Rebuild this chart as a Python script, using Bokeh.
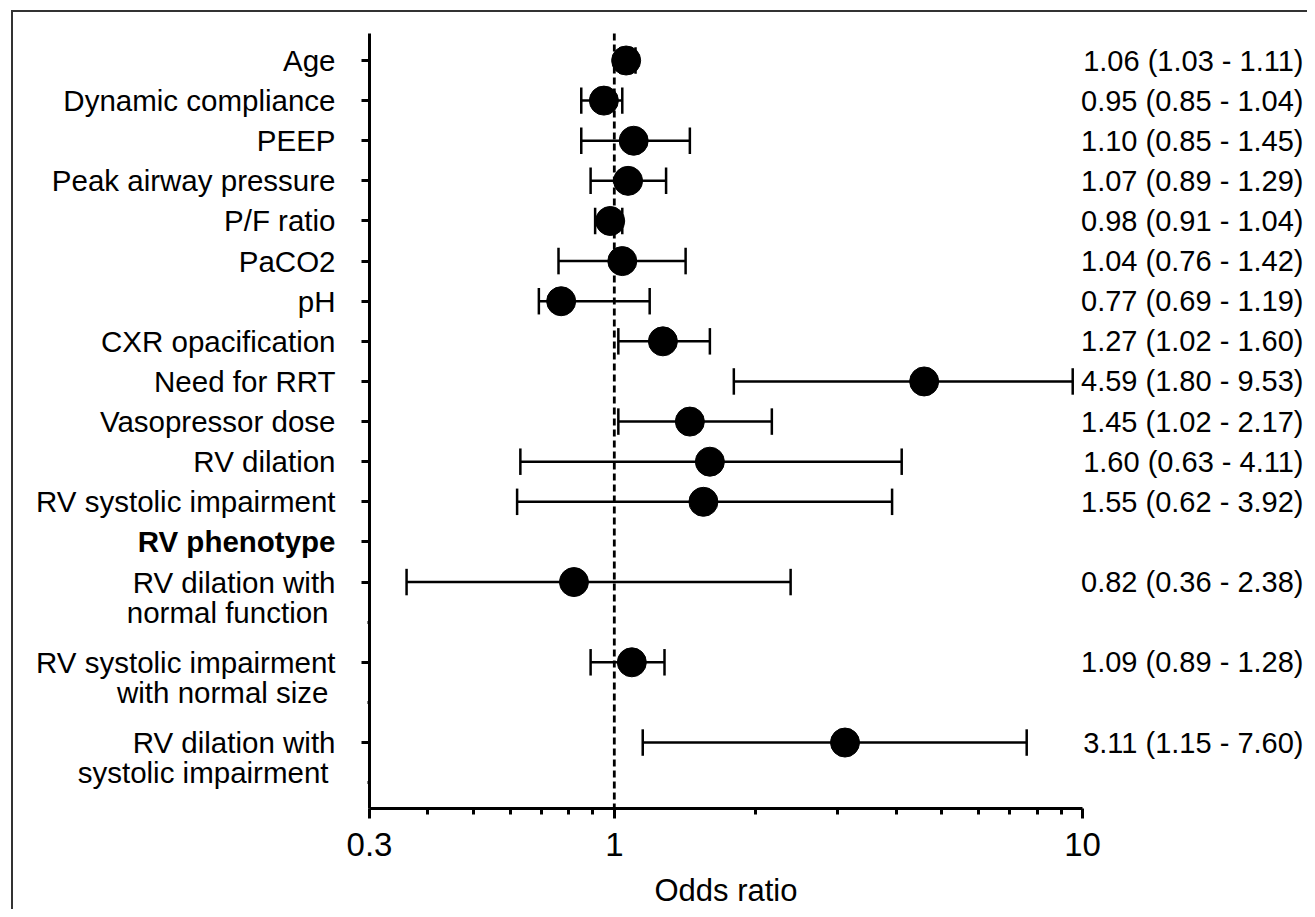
import math
from bokeh.plotting import figure
from bokeh.models import Range1d, FixedTicker, PrintfTickFormatter
from bokeh.core.properties import value
from bokeh.embed import file_html
from bokeh.resources import INLINE

# ---------------- data ----------------
labels = ["Age", "Dynamic compliance", "PEEP", "Peak airway pressure", "P/F ratio",
          "PaCO2", "pH", "CXR opacification", "Need for RRT", "Vasopressor dose",
          "RV dilation", "RV systolic impairment", "RV phenotype",
          "RV dilation with", "RV systolic impairment", "RV dilation with"]
second_lines = ["", "", "", "", "", "", "", "", "", "", "", "", "",
                "normal function", "with normal size", "systolic impairment"]
rows = [0, 1, 2, 3, 4, 5, 6, 7, 8, 9, 10, 11, 12, 13, 15, 17]
odds = [1.06, 0.95, 1.10, 1.07, 0.98, 1.04, 0.77, 1.27, 4.59, 1.45, 1.60, 1.55, None, 0.82, 1.09, 3.11]
lower = [1.03, 0.85, 0.85, 0.89, 0.91, 0.76, 0.69, 1.02, 1.80, 1.02, 0.63, 0.62, None, 0.36, 0.89, 1.15]
upper = [1.11, 1.04, 1.45, 1.29, 1.04, 1.42, 1.19, 1.60, 9.53, 2.17, 4.11, 3.92, None, 2.38, 1.28, 7.60]
bold_labels = ["RV phenotype"]
minor_rows = [14, 16, 18]
x_major = [0.3, 1, 10]
x_minor = [0.4, 0.5, 0.6, 0.7, 0.8, 0.9, 2, 3, 4, 5, 6, 7, 8, 9]
XMIN, XMAX = 0.3, 10
YTOP, YBOT = -0.67, 18.64

FONT = "Liberation Sans"

# ---------------- geometry (px from the canvas origin) ----------------
W, H = 1307, 909
AX_L, AX_R = 369, 1082          # px where 0.3 and 10 lie
ROW0, ROW_STEP = 60, 40.12       # px of row 0 and px per row
KPX = math.log10(XMAX / XMIN) / (AX_R - AX_L)


def xpx(px):
    return 10 ** (math.log10(XMIN) + (px - AX_L) * KPX)


def ypx(py):
    return (py - ROW0) / ROW_STEP


p = figure(width=W, height=H, x_axis_type="log",
           x_range=Range1d(xpx(0), xpx(W)),
           y_range=Range1d(ypx(H), ypx(0)),
           output_backend="svg", toolbar_location=None,
           min_border_left=0, min_border_right=0, min_border_top=0, min_border_bottom=0)
p.outline_line_color = None
p.grid.visible = False
p.background_fill_color = "white"
p.border_fill_color = "white"

# x axis, drawn at bottom of data area
xa = p.xaxis[0]
xa.fixed_location = YBOT
xa.bounds = (XMIN, XMAX)
xa.ticker = FixedTicker(ticks=x_major, minor_ticks=x_minor)
xa.formatter = PrintfTickFormatter(format="%g")
xa.axis_line_width = 3
xa.major_tick_line_width = 3
xa.minor_tick_line_width = 3
xa.major_tick_out = 10
xa.major_tick_in = 0
xa.minor_tick_out = 6
xa.minor_tick_in = 0
xa.major_label_text_font = FONT
xa.major_label_text_font_size = "33px"
xa.major_label_text_color = "black"
xa.major_label_standoff = 15
xa.axis_label = "Odds ratio"
xa.axis_label_text_font = FONT
xa.axis_label_text_font_size = "31px"
xa.axis_label_text_font_style = "normal"
xa.axis_label_text_color = "black"
xa.axis_label_standoff = 13

# y axis at OR = 0.3
ya = p.yaxis[0]
ya.fixed_location = XMIN
ya.bounds = (YTOP, YBOT)
ya.ticker = FixedTicker(ticks=rows, minor_ticks=minor_rows)
ya.major_label_overrides = {r: "" for r in rows}
ya.axis_line_width = 3
ya.major_tick_line_width = 3
ya.minor_tick_line_width = 3
ya.major_tick_out = 8
ya.major_tick_in = 0
ya.minor_tick_out = 2
ya.minor_tick_in = 0

# reference line at OR = 1
p.segment(x0=[1], y0=[YTOP], x1=[1], y1=[YBOT], line_color="black",
          line_width=2.8, line_dash="7 4")

# picture frame (top and left edges)
p.segment(x0=[xpx(11.5)], y0=[ypx(10)], x1=[xpx(11.5)], y1=[ypx(H)],
          line_color="#333333", line_width=2)
p.segment(x0=[xpx(10.5)], y0=[ypx(10.5)], x1=[xpx(W)], y1=[ypx(10.5)],
          line_color="#333333", line_width=2)

# error bars and points
ys, os_, ls, hs = [], [], [], []
for r, o, l, h in zip(rows, odds, lower, upper):
    if o is None:
        continue
    ys.append(r); os_.append(o); ls.append(l); hs.append(h)

cap = 0.33
p.segment(x0=ls, y0=ys, x1=hs, y1=ys, line_color="black", line_width=2.5)
p.segment(x0=ls, y0=[y - cap for y in ys], x1=ls, y1=[y + cap for y in ys],
          line_color="black", line_width=2.5)
p.segment(x0=hs, y0=[y - cap for y in ys], x1=hs, y1=[y + cap for y in ys],
          line_color="black", line_width=2.5)
p.scatter(x=os_, y=ys, size=29, fill_color="black", line_color="black")

# row labels
left_x = xpx(335)
norm_lab = [(l, r) for l, r in zip(labels, rows) if l not in bold_labels]
bold_lab = [(l, r) for l, r in zip(labels, rows) if l in bold_labels]
p.text(x=[left_x] * len(norm_lab), y=[r for _, r in norm_lab], text=[l for l, _ in norm_lab],
       text_align="right", text_baseline="middle", text_font=value(FONT),
       text_font_size=value("29.5px"), text_color="black")
p.text(x=[left_x] * len(bold_lab), y=[r for _, r in bold_lab], text=[l for l, _ in bold_lab],
       text_align="right", text_baseline="middle", text_font=value(FONT),
       text_font_size=value("29.5px"), text_font_style="bold", text_color="black")
sec = [(s, r) for s, r in zip(second_lines, rows) if s]
p.text(x=[xpx(328)] * len(sec), y=[r + 0.75 for _, r in sec], text=[s for s, _ in sec],
       text_align="right", text_baseline="middle", text_font=value(FONT),
       text_font_size=value("29.5px"), text_color="black")

# estimate (95% CI) column
ann = [f"{o:.2f} ({l:.2f} - {h:.2f})" for o, l, h in zip(os_, ls, hs)]
p.text(x=[xpx(1303)] * len(ann), y=ys, text=ann,
       text_align="right", text_baseline="middle", text_font=value(FONT),
       text_font_size=value("29px"), text_color="black")

open("out.html", "w").write(file_html(p, INLINE))
